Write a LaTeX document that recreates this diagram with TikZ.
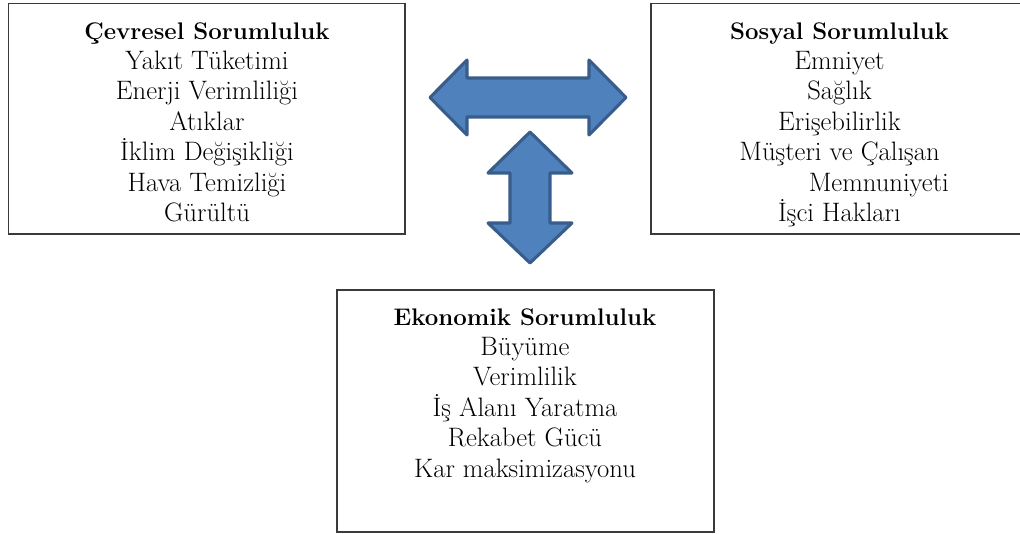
\documentclass[tikz,border=0pt]{standalone}
\usepackage{fontspec}
\definecolor{arrowfill}{HTML}{4F81BD}
\definecolor{arrowline}{HTML}{385D8A}
\definecolor{boxline}{HTML}{3A3A3A}
\newcommand{\boxtitle}[1]{{\fontsize{18}{22.8}\selectfont\bfseries #1}}
\begin{document}
\begin{tikzpicture}[x=0.75pt,y=-0.75pt,
  framebox/.style={draw=boxline,line width=1.3pt},
  boxtext/.style={anchor=north,align=center,inner sep=0pt,
    font=\fontsize{20}{22.8}\selectfont},
  blockarrow/.style={fill=arrowfill,draw=arrowline,line width=2.3pt,line join=round}]
\useasboundingbox (0,0) rectangle (1020,534);
% boxes
\draw[framebox] (8.5,3.4) rectangle (405,234);
\draw[framebox] (651,3.4) rectangle (1028,234);
\draw[framebox] (337,290) rectangle (714,532);
% texts
\node[boxtext] (cev) at (207,22) {\boxtitle{Çevresel Sorumluluk}\\Yakıt Tüketimi\\Enerji Verimliliği\\Atıklar\\İklim Değişikliği\\Hava Temizliği\\Gürültü};
\node[boxtext] (sos) at (839.5,22) {\boxtitle{Sosyal Sorumluluk}\\Emniyet\\Sağlık\\Erişebilirlik\\Müşteri ve Çalışan\\\hspace*{59pt}Memnuniyeti\\İşci Hakları};
\node[boxtext] (eko) at (525,308) {\boxtitle{Ekonomik Sorumluluk}\\Büyüme\\Verimlilik\\İş Alanı Yaratma\\Rekabet Gücü\\Kar maksimizasyonu};
% horizontal double arrow
\draw[blockarrow] (430,97.5) -- (467,60) -- (467,78) -- (589,78) -- (589,60) -- (626,97.5)
  -- (589,135) -- (589,117) -- (467,117) -- (467,135) -- cycle;
% vertical double arrow
\draw[blockarrow] (530,132) -- (572,173) -- (550,173) -- (550,223) -- (572,223) -- (530,263)
  -- (488,223) -- (510,223) -- (510,173) -- (488,173) -- cycle;
\end{tikzpicture}
\end{document}
